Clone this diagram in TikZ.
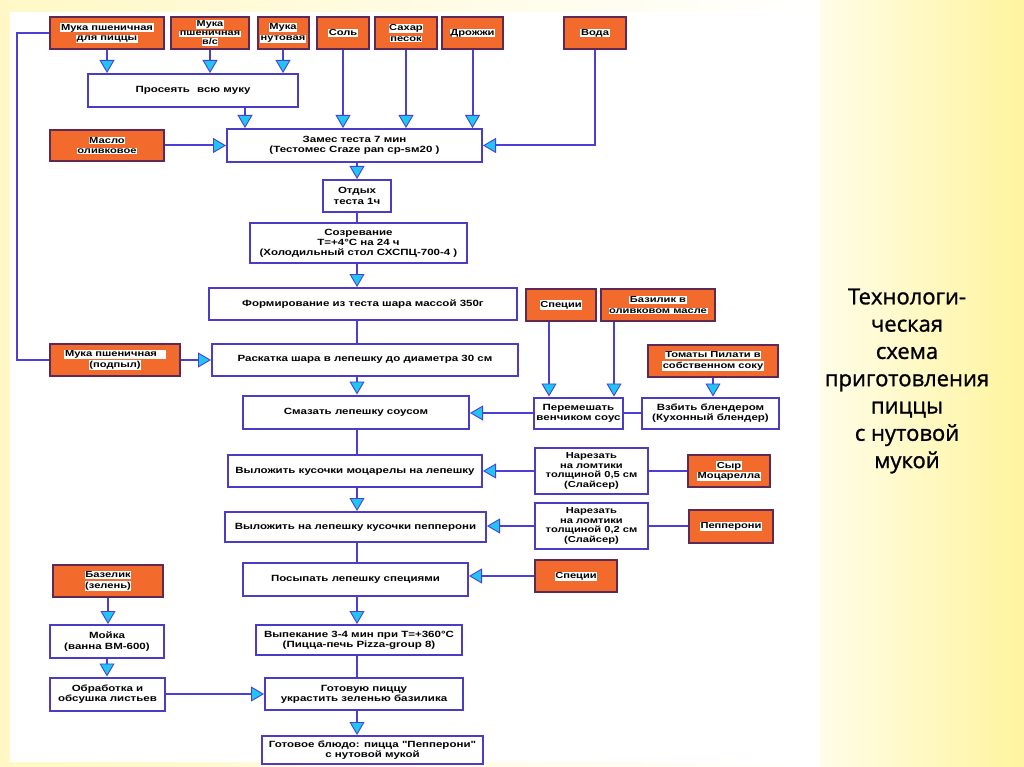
\documentclass[tikz,border=0pt]{standalone}
\usepackage{fontspec}
\setmainfont{Liberation Sans}
\newfontfamily\boxfont{Liberation Sans}[FakeStretch=1.28]
\newfontfamily\titlefont{Open Sans}[FakeBold=1.2]
\usetikzlibrary{arrows.meta,calc}
\definecolor{lineblue}{HTML}{4B3FD6}
\definecolor{boxborder}{HTML}{4A3CC4}
\definecolor{orangefill}{HTML}{F26A2C}
\definecolor{orangeborder}{HTML}{5E2A55}
\definecolor{tipcyan}{HTML}{1FC6F2}
\definecolor{bgL}{HTML}{FFF8C6}
\definecolor{bgM}{HTML}{FFFDE8}
\definecolor{bgR}{HTML}{FFF49E}
\newcommand\hl[1]{{\setlength{\fboxsep}{0.6pt}\colorbox{white}{#1}}}
\tikzset{
  wbox/.style={draw=boxborder, line width=2pt, fill=white, inner sep=1pt, align=center,
    font=\boxfont\bfseries\fontsize{9}{10.2}\selectfont},
  obox/.style={wbox, draw=orangeborder, fill=orangefill, font=\boxfont\bfseries\fontsize{8.7}{10.2}\selectfont},
  conn/.style={draw=lineblue, line width=2pt},
  arr/.style={conn, -{Triangle[width=15pt,length=13pt,fill=tipcyan,line width=0.9pt]}}
}
\begin{document}
\begin{tikzpicture}[x=1pt,y=-1pt]
\useasboundingbox (0,0) rectangle (1024,767);
\shade[left color=bgL, right color=white] (0,0) rectangle (820,767);
\shade[left color=bgM, right color=bgR] (820,0) rectangle (1024,767);
\fill[white] (10,12) rectangle (820,762);

% orange inputs
\node[obox, minimum width=114pt, minimum height=32pt] (m1) at (107,33) {\hl{Мука пшеничная}\\\hl{для пиццы}};
\node[obox, minimum width=78pt, minimum height=32pt, font=\boxfont\bfseries\fontsize{8.5}{9}\selectfont] (m2) at (210,33) {\hl{Мука}\\\hl{пшеничная}\\\hl{в/с}};
\node[obox, minimum width=51pt, minimum height=32pt] (m3) at (283,33) {\hl{Мука}\\\hl{нутовая}};
\node[obox, minimum width=52pt, minimum height=32pt] (salt) at (343,33) {\hl{Соль}};
\node[obox, minimum width=62pt, minimum height=32pt] (sugar) at (406,33) {\hl{Сахар}\\\hl{песок}};
\node[obox, minimum width=61pt, minimum height=32pt] (yeast) at (472.5,33) {\hl{Дрожжи}};
\node[obox, minimum width=62pt, minimum height=32pt] (water) at (595,33) {\hl{Вода}};
\node[obox, minimum width=114pt, minimum height=31pt] (oil) at (107,145.5) {\hl{Масло}\\\hl{оливковое}};
\node[obox, minimum width=130pt, minimum height=32pt] (flour2) at (115,360) {\hl{Мука пшеничная\hspace{8pt}}\\\hl{(подпыл)}};
\node[obox, minimum width=70pt, minimum height=32pt] (spice1) at (561,305) {\hl{Специи}};
\node[obox, minimum width=114pt, minimum height=32pt] (basil) at (658,305) {\hl{Базилик в}\\\hl{оливковом масле}};
\node[obox, minimum width=130pt, minimum height=32pt] (tomato) at (713,361) {\hl{Томаты Пилати в}\\\hl{собственном соку}};
\node[obox, minimum width=82pt, minimum height=32pt] (cheese) at (729,471) {\hl{Сыр}\\\hl{Моцарелла}};
\node[obox, minimum width=84pt, minimum height=33pt] (pepp) at (731,526) {\hl{Пепперони}};
\node[obox, minimum width=82pt, minimum height=32pt] (spice2) at (576,576) {\hl{Специи}};
\node[obox, minimum width=110pt, minimum height=32pt] (basil2) at (108,581) {\hl{Базелик}\\\hl{(зелень)}};

% process steps
\node[wbox, minimum width=210pt, minimum height=33pt] (sift) at (193,90.5) {Просеять\hspace{4pt} всю муку};
\node[wbox, minimum width=255pt, minimum height=33pt] (knead) at (354.5,145.5) {Замес теста 7 мин\\(Тестомес Craze pan cp-sм20 )};
\node[wbox, minimum width=68pt, minimum height=32pt] (rest) at (357,196) {Отдых\\теста 1ч};
\node[wbox, minimum width=217pt, minimum height=40pt] (ripen) at (358.5,243) {Созревание\\Т=+4°С на 24 ч\\(Холодильный стол СХСПЦ-700-4 )};
\node[wbox, minimum width=308pt, minimum height=32pt] (form) at (363,304) {Формирование из теста шара массой 350г};
\node[wbox, minimum width=306pt, minimum height=32pt] (roll) at (365,359.5) {Раскатка шара в лепешку до диаметра 30 см};
\node[wbox, minimum width=226pt, minimum height=33pt] (smear) at (356,412) {Смазать лепешку соусом};
\node[wbox, minimum width=89pt, minimum height=31pt] (mix) at (578.5,413) {Перемешать\\венчиком соус};
\node[wbox, minimum width=137pt, minimum height=31pt] (blend) at (710.5,413) {Взбить блендером\\(Кухонный блендер)};
\node[wbox, minimum width=254pt, minimum height=32pt] (moz) at (355,471) {Выложить кусочки моцарелы на лепешку};
\node[wbox, minimum width=113pt, minimum height=46pt, font=\boxfont\bfseries\fontsize{8.7}{9.7}\selectfont] (cut1) at (591.5,471) {Нарезать\\на ломтики\\толщиной 0,5 см\\(Слайсер)};
\node[wbox, minimum width=261pt, minimum height=30pt] (pep) at (355.5,527) {Выложить на лепешку кусочки пепперони};
\node[wbox, minimum width=113pt, minimum height=46pt, font=\boxfont\bfseries\fontsize{8.7}{9.7}\selectfont] (cut2) at (591.5,526) {Нарезать\\на ломтики\\толщиной 0,2 см\\(Слайсер)};
\node[wbox, minimum width=225pt, minimum height=33pt] (sprinkle) at (355.5,579.5) {Посыпать лепешку специями};
\node[wbox, minimum width=206pt, minimum height=30pt] (bake) at (359,640) {Выпекание 3-4 мин при Т=+360°С\\(Пицца-печь Pizza-group 8)};
\node[wbox, minimum width=114pt, minimum height=33pt] (wash) at (107,641.5) {Мойка\\(ванна ВМ-600)};
\node[wbox, minimum width=115pt, minimum height=33pt] (dry) at (107.5,694) {Обработка и\\обсушка листьев};
\node[wbox, minimum width=198pt, minimum height=32pt] (garnish) at (364,694) {Готовую пиццу\\украстить зеленью базилика};
\node[wbox, minimum width=221pt, minimum height=28pt] (final) at (372.5,750) {Готовое блюдо: пицца "Пепперони"\\с нутовой мукой};

% title
\node[font=\titlefont\fontsize{22}{27.3}\selectfont, align=center] (title) at (907,381)
  {Технологи-\\ческая\\схема\\приготовления\\пиццы\\с нутовой\\мукой};

% connectors
\coordinate (sp) at (357,0);
\coordinate (sx) at (245,0);
\coordinate (lp) at (17,200);
\draw[arr] (m1.south) -- (m1.south |- sift.north);
\draw[arr] (m2.south) -- (m2.south |- sift.north);
\draw[arr] (m3.south) -- (m3.south |- sift.north);
\draw[arr] (sift.south -| sx) -- (knead.north -| sx);
\draw[arr] (salt.south) -- (salt.south |- knead.north);
\draw[arr] (sugar.south) -- (sugar.south |- knead.north);
\draw[arr] (yeast.south) -- (yeast.south |- knead.north);
\draw[arr] (water.south) |- (knead.east);
\draw[arr] (oil.east) -- (oil.east -| knead.west);
\draw[conn] (m1.west) -| (lp) |- (flour2.west);
\draw[arr] (flour2.east) -- (flour2.east -| roll.west);

\draw[arr] (knead.south -| sp) -- (rest.north -| sp);
\draw[conn] (rest.south -| sp) -- (ripen.north -| sp);
\draw[arr] (ripen.south -| sp) -- (form.north -| sp);
\draw[conn] (form.south -| sp) -- (roll.north -| sp);
\draw[arr] (roll.south -| sp) -- (smear.north -| sp);
\draw[conn] (smear.south -| sp) -- (moz.north -| sp);
\draw[arr] (moz.south -| sp) -- (pep.north -| sp);
\draw[conn] (pep.south -| sp) -- (sprinkle.north -| sp);
\draw[arr] (sprinkle.south -| sp) -- (bake.north -| sp);
\draw[conn] (bake.south -| sp) -- (garnish.north -| sp);
\draw[arr] (garnish.south -| sp) -- (final.north -| sp);

\draw[arr] (mix.west) -- (mix.west -| smear.east);
\draw[conn] (blend.west) -- (mix.east);
\draw[arr] ([xshift=-12pt]spice1.south) -- ([xshift=-12pt]spice1.south |- mix.north);
\draw[arr] ([xshift=-44pt]basil.south) -- ([xshift=-44pt]basil.south |- mix.north);
\draw[arr] (tomato.south) -- (tomato.south |- blend.north);
\draw[conn] (cheese.west) -- (cut1.east);
\draw[arr] (cut1.west) -- (cut1.west -| moz.east);
\draw[conn] (pepp.west) -- (cut2.east);
\draw[arr] (cut2.west) -- (cut2.west -| pep.east);
\draw[arr] (spice2.west) -- (spice2.west -| sprinkle.east);
\draw[arr] (basil2.south) -- (basil2.south |- wash.north);
\draw[arr] (wash.south) -- (wash.south |- dry.north);
\draw[arr] (dry.east) -- (dry.east -| garnish.west);
\end{tikzpicture}
\end{document}
